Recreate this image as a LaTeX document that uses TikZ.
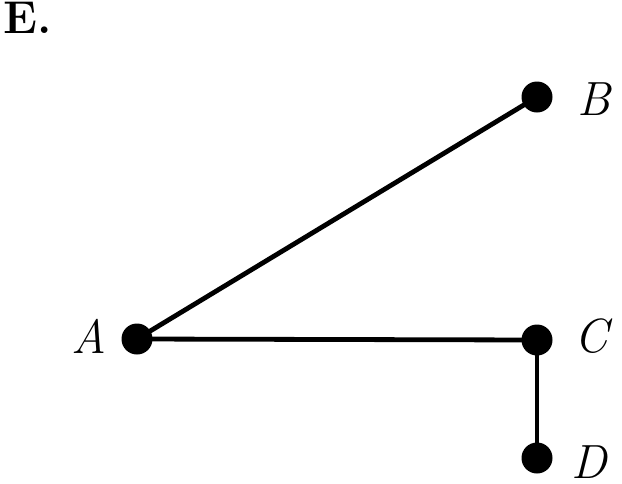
\documentclass[tikz,border=0pt]{standalone}
\begin{document}
\begin{tikzpicture}[x=1pt,y=-1pt,
  dot/.style={circle,fill=black,inner sep=0pt,minimum size=31pt},
  lab/.style={anchor=base west,inner sep=0pt,font=\fontsize{48}{48}\selectfont\itshape},
  edge/.style={line width=4.8pt}]
\useasboundingbox (0,0) rectangle (622,483);
\node[anchor=base west,inner sep=0pt,font=\fontsize{46}{46}\selectfont\bfseries] (title) at (3,33) {E.};
\node[dot] (A) at (137,339) {};
\node[dot] (B) at (537,97) {};
\node[dot] (C) at (537,340) {};
\node[dot] (D) at (537,458) {};
\draw[edge] (A.center) -- (B.center);
\draw[edge] (A.center) -- (C.center);
\draw[edge] (C.center) -- (D.center);
\node[lab] (lA) at (71,353) {A};
\node[lab] (lB) at (577,115) {B};
\node[lab] (lC) at (574,352) {C};
\node[lab] (lD) at (571,478) {D};
\end{tikzpicture}
\end{document}
